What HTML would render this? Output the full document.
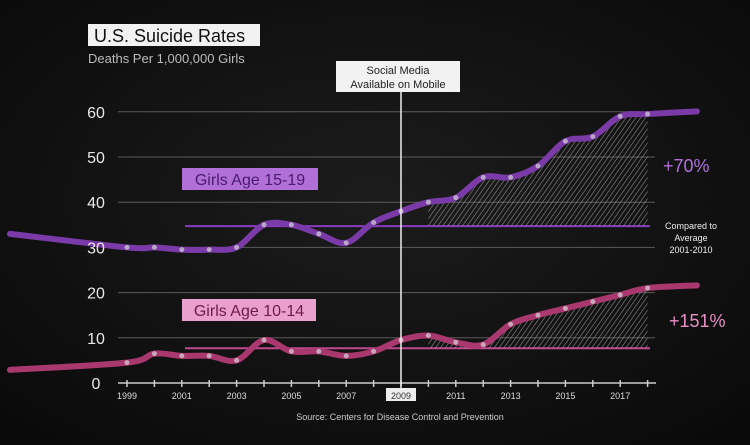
<!DOCTYPE html>
<html><head><meta charset="utf-8"><style>
html,body{margin:0;padding:0;background:#121212;}
svg{display:block;font-family:"Liberation Sans",sans-serif;}
</style></head><body>
<svg id="chart" width="750" height="445" viewBox="0 0 750 445">
<defs>
<radialGradient id="bg" cx="50%" cy="45%" r="70%"><stop offset="0" stop-color="#1c1c1c"/><stop offset="1" stop-color="#0a0a0a"/></radialGradient>
<pattern id="hatch" width="4" height="4" patternUnits="userSpaceOnUse" patternTransform="rotate(35)"><line x1="0" y1="0" x2="0" y2="4" stroke="#aaa" stroke-width="1.2"/></pattern>
</defs>
<rect width="750" height="445" fill="url(#bg)"/>
<rect x="88" y="24" width="172" height="22" fill="#f2f2f2"/>
<text x="94" y="42" font-size="18" fill="#111">U.S. Suicide Rates</text>
<text x="88" y="63" font-size="13" fill="#bbb">Deaths Per 1,000,000 Girls</text>
<g id="grid"></g><g id="areas"></g><g id="lines"></g><g id="axes"></g>
<rect x="336" y="61" width="124" height="31" fill="#f2f2f2"/>
<text x="398" y="74" font-size="11" text-anchor="middle" fill="#222">Social Media</text>
<text x="398" y="88" font-size="11" text-anchor="middle" fill="#222">Available on Mobile</text>
<rect x="182" y="168" width="136" height="22" fill="#b070d8"/>
<text x="250" y="185" font-size="16" text-anchor="middle" fill="#4a1a6e">Girls Age 15-19</text>
<rect x="182" y="299" width="134" height="22" fill="#eaa0cc"/>
<text x="249" y="316" font-size="16" text-anchor="middle" fill="#6e1a48">Girls Age 10-14</text>
<text x="663" y="172" font-size="18" fill="#b070d8">+70%</text>
<text x="669" y="327" font-size="18" fill="#e890c8">+151%</text>
<text x="691" y="229" font-size="9" text-anchor="middle" fill="#eee">Compared to</text>
<text x="691" y="241" font-size="9" text-anchor="middle" fill="#eee">Average</text>
<text x="691" y="253" font-size="9" text-anchor="middle" fill="#eee">2001-2010</text>
<text x="400" y="420" font-size="9" text-anchor="middle" fill="#ccc">Source: Centers for Disease Control and Prevention</text>
</svg>
<script>
const years=[1999,2000,2001,2002,2003,2004,2005,2006,2007,2008,2009,2010,2011,2012,2013,2014,2015,2016,2017,2018];
const older=[30,30,29.5,29.5,30,35,35,33,31,35.5,38,40,41,45.5,45.5,48,53.5,54.5,59,59.5];
const younger=[4.5,6.5,6,6,5,9.5,7,7,6,7,9.5,10.5,9,8.5,13,15,16.5,18,19.5,21];
const olderAvg=[34.7];
const youngerAvg=[7.7];
const yTicks=[0,10,20,30,40,50,60];
const xTickLabels=[1999,2001,2003,2005,2007,2009,2011,2013,2015,2017];
const NS="http://www.w3.org/2000/svg";
function X(yr){return 127+(yr-1999)*27.4;}
function Y(v){return 383-v*4.52;}
function mk(t,a,p){const e=document.createElementNS(NS,t);for(const k in a)e.setAttribute(k,a[k]);document.getElementById(p).appendChild(e);return e;}
function smooth(pts){let d="M"+pts[0][0]+","+pts[0][1];for(let i=0;i<pts.length-1;i++){const p0=pts[Math.max(i-1,0)],p1=pts[i],p2=pts[i+1],p3=pts[Math.min(i+2,pts.length-1)];d+=" C"+(p1[0]+(p2[0]-p0[0])/6)+","+(p1[1]+(p2[1]-p0[1])/6)+" "+(p2[0]-(p3[0]-p1[0])/6)+","+(p2[1]-(p3[1]-p1[1])/6)+" "+p2[0]+","+p2[1];}return d;}
yTicks.forEach(v=>{
  const t=mk("text",{x:96,y:Y(v)+6,"font-size":16,"text-anchor":"middle",fill:"#e8e8e8"},"axes");t.textContent=v;
  
  
  if(v>0){const l=mk("line",{x1:118,x2:655,y1:Y(v),y2:Y(v),stroke:"#5a5a5a","stroke-width":1},"grid");
  
  }
});
[[olderAvg[0],"#8a3cc0"],[youngerAvg[0],"#c04890"]].forEach(([v,c])=>{
  const l=mk("line",{x1:185,x2:650,y1:Y(v),y2:Y(v),stroke:c,"stroke-width":2},"grid");
  
  
});
function series(vals,avg,color,dot,name){
  const pts=years.map((y,i)=>[X(y),Y(vals[i])]);
  const sub=pts.slice(11);
  let d=smooth(sub)+" L"+X(2018)+","+Y(avg)+" L"+X(2010)+","+Y(avg)+" Z";
  const a=mk("path",{d:d,fill:"url(#hatch)",opacity:0.8},"areas");
  
  
  const ext=[[10,Y(vals[0]+(name==="older"?3:-1.6))],...pts,[X(2019.8),Y(vals[19]+0.6)]];
  const p=mk("path",{d:smooth(ext),fill:"none",stroke:color,"stroke-width":6,"stroke-linecap":"round"},"lines");
  
  
  pts.forEach(q=>{const c=mk("circle",{cx:q[0],cy:q[1],r:2.5,fill:dot},"lines");
  
  });
}
series(older,olderAvg[0],"#7a3aa8","#b9a6c8","older");
series(younger,youngerAvg[0],"#a8386e","#c9a6b8","younger");
const ax=mk("line",{x1:118,x2:656,y1:383,y2:383,stroke:"#ccc","stroke-width":1.5},"axes");


years.forEach(y=>{const t=mk("line",{x1:X(y),x2:X(y),y1:380,y2:387,stroke:"#ccc","stroke-width":1.5},"axes");

});
xTickLabels.forEach(y=>{
  if(y===2009){const r=mk("rect",{x:X(y)-15,y:388,width:30,height:13,fill:"#eee"},"axes");
  
  }
  const t=mk("text",{x:X(y),y:399,"font-size":9,"text-anchor":"middle",fill:y===2009?"#333":"#ddd"},"axes");t.textContent=y;
  
  
});
const v=mk("line",{x1:X(2009),x2:X(2009),y1:92,y2:390,stroke:"#eee","stroke-width":1.5},"axes");


</script>
</body></html>
